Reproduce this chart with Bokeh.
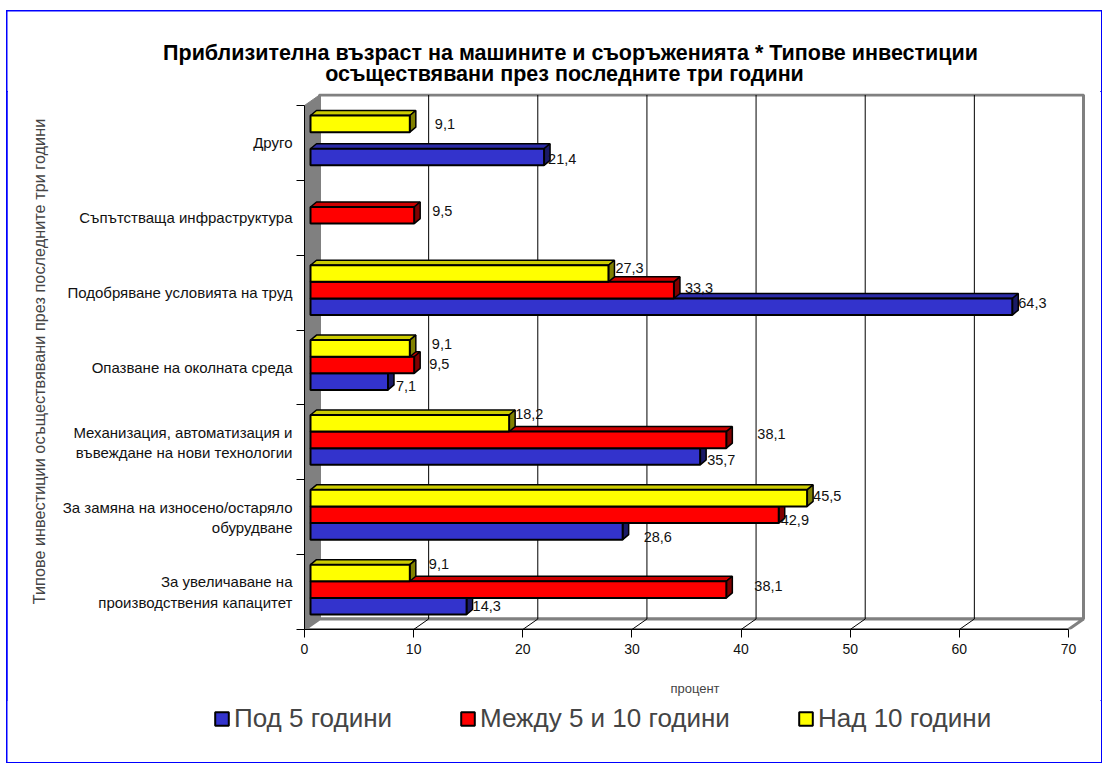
from bokeh.plotting import figure
from bokeh.layouts import column
from bokeh.models import Range1d, FixedTicker, Label, Legend, LegendItem, ColumnDataSource
from bokeh.embed import file_html
from bokeh.resources import INLINE
from bokeh.core.properties import value

# ---------------- data ----------------
categories = [
    "За увеличаване на\nпроизводствения капацитет",
    "За замяна на износено/остаряло\nобурудване",
    "Механизация, автоматизация и\nвъвеждане на нови технологии",
    "Опазване на околната среда",
    "Подобряване условията на труд",
    "Съпътстваща инфраструктура",
    "Друго",
]
series_names = ["Под 5 години", "Между 5 и 10 години", "Над 10 години"]
under_5 = [14.3, 28.6, 35.7, 7.1, 64.3, None, 21.4]
between_5_10 = [38.1, 42.9, 38.1, 9.5, 33.3, 9.5, None]
over_10 = [9.1, 45.5, 18.2, 9.1, 27.3, None, 9.1]
x_ticks = [0, 10, 20, 30, 40, 50, 60, 70]

title_lines = ["Приблизителна възраст на машините и съоръженията * Типове инвестиции",
               "осъществявани през последните три години"]
x_title = "процент"
y_title = "Типове инвестиции осъществявани през последните три години"

# label nudges (px) for the value labels, as placed in the original
nudge_x = [[0, 15, 1, 2, 0, 0, -2],
           [22, -4, 25, 9, 5, 12, 0],
           [13, 0, 0, 16, 1, 0, 19]]
nudge_y = [[0, 6, 4, 4, -4, 0, 1.5],
           [-4, 5, -6, -1.5, -2.5, -4, 0],
           [-9, -2, -9, -4.5, -6, 0, 0]]

front_colors = ["#3333CC", "#FF0000", "#FFFF00"]
top_colors = ["#2B2BA8", "#CC0000", "#CCCC00"]
side_colors = ["#1A1A66", "#800000", "#808000"]

FONT = "Liberation Sans"

# ---------------- geometry (px -> data) ----------------
PX_X = 764 / 70.0
PX_Y = 74.86
OX, OY = 7, 11                       # layout position on the page
W, H0, H1, H2 = 1094, 80, 609, 62
ML, MR, MT, MB = 297, 16, 2, 71
X_END = (W - ML - MR) / PX_X
Y_END = (H1 - MT - MB) / PX_Y
NCAT = len(categories)
XMAX = x_ticks[-1]
WDX, WDY = 15 / PX_X, 10.5 / PX_Y      # wall depth
BX0 = 6 / PX_X                          # bar front offset
BDX, BDY = 6 / PX_X, 5 / PX_Y           # bar depth
SLOT0, SLOT_H = 0.2, 0.222


def strip(h):
    f = figure(width=W, height=h, output_backend="svg", toolbar_location=None,
               x_range=Range1d(0, W), y_range=Range1d(0, h), x_axis_type=None,
               y_axis_type=None, min_border=0)
    f.frame_align = False
    f.outline_line_color = None
    f.grid.visible = False
    f.background_fill_color = "white"
    f.border_fill_color = "white"
    return f


# ---------------- title strip ----------------
tf = strip(H0)
for line, cx, cy in zip(title_lines, [563, 557], [39, 17.5]):
    tf.add_layout(Label(x=cx, y=cy, text=line, text_align="center", text_baseline="middle",
                        text_font=FONT, text_font_size="21.5px", text_font_style="bold",
                        text_color="black"))

# ---------------- main chart ----------------
p = figure(width=W, height=H1, output_backend="svg", toolbar_location=None,
           x_range=Range1d(0, X_END), y_range=Range1d(0, Y_END),
           min_border_left=ML, min_border_right=MR, min_border_top=MT, min_border_bottom=MB)
p.frame_align = False
p.outline_line_color = None
p.xgrid.visible = False
p.ygrid.visible = False
p.background_fill_color = "white"
p.border_fill_color = "white"

# back wall
p.quad(left=WDX, right=XMAX + WDX, bottom=WDY, top=NCAT + WDY,
       fill_color="white", line_color="#808080", line_width=3)
# floor
p.patch([0, XMAX, XMAX + WDX, WDX], [0, 0, WDY, WDY], fill_color="white",
        line_color="#808080", line_width=3)
# left wall
p.patch([0, WDX, WDX, 0], [0, WDY, NCAT + WDY, NCAT], fill_color="#808080",
        line_color="#808080", line_width=1)
# wall gridlines
gx = [t for t in x_ticks if 0 < t < XMAX]
p.segment(x0=[t + WDX for t in gx], y0=[WDY] * len(gx), x1=[t + WDX for t in gx],
          y1=[NCAT + WDY] * len(gx), line_color="black", line_width=1)
p.segment(x0=gx, y0=[0] * len(gx), x1=[t + WDX for t in gx], y1=[WDY] * len(gx),
          line_color="black", line_width=1)

# bars
all_series = [under_5, between_5_10, over_10]
for k, vals in enumerate(all_series):
    L, R, B, T = [], [], [], []
    txs, tys, sxs, sys_ = [], [], [], []
    for c, v in enumerate(vals):
        if v is None:
            continue
        b = c + SLOT0 + k * SLOT_H
        t = b + SLOT_H
        x0, x1 = BX0, v + BX0
        L.append(x0); R.append(x1); B.append(b); T.append(t)
        txs.append([x0, x1, x1 + BDX, x0 + BDX]); tys.append([t, t, t + BDY, t + BDY])
        sxs.append([x1, x1 + BDX, x1 + BDX, x1]); sys_.append([b, b + BDY, t + BDY, t])
    p.patches(txs, tys, fill_color=top_colors[k], line_color="black", line_width=1.5)
    p.patches(sxs, sys_, fill_color=side_colors[k], line_color="black", line_width=1.5)
    p.quad(left=L, right=R, bottom=B, top=T, fill_color=front_colors[k],
           line_color="black", line_width=2)

# value labels
lx, ly, lt, ldx, ldy = [], [], [], [], []
for k, vals in enumerate(all_series):
    for c, v in enumerate(vals):
        if v is None:
            continue
        lx.append(v + BX0 + BDX)
        ly.append(c + SLOT0 + k * SLOT_H + SLOT_H / 2)
        lt.append(f"{v:.1f}".replace(".", ","))
        ldx.append(nudge_x[k][c])
        ldy.append(nudge_y[k][c])
src = ColumnDataSource(dict(x=lx, y=ly, text=lt, dx=ldx, dy=ldy))
p.text(x="x", y="y", text="text", x_offset="dx", y_offset="dy", source=src,
       text_font=value(FONT), text_font_size=value("14.5px"), text_color="#111111",
       text_align="left", text_baseline="middle")

# axes
p.xaxis.ticker = FixedTicker(ticks=x_ticks, minor_ticks=[])
p.xaxis.bounds = (0, XMAX)
p.xaxis.axis_line_color = "black"
p.xaxis.major_tick_out = 8
p.xaxis.major_tick_in = 0
p.xaxis.major_tick_line_color = "black"
p.xaxis.major_label_text_font = FONT
p.xaxis.major_label_text_font_size = "14px"
p.xaxis.major_label_text_color = "#111111"
p.xaxis.major_label_standoff = 6
p.xaxis.axis_label = x_title
p.xaxis.axis_label_text_font = FONT
p.xaxis.axis_label_text_font_size = "13px"
p.xaxis.axis_label_text_font_style = "normal"
p.xaxis.axis_label_standoff = 24

centers = [c + 0.5 for c in range(NCAT)]
p.yaxis.ticker = FixedTicker(ticks=centers, minor_ticks=list(range(NCAT + 1)))
p.yaxis.major_label_overrides = {c + 0.5: lab for c, lab in enumerate(categories)}
p.yaxis.bounds = (0, NCAT)
p.yaxis.axis_line_color = "black"
p.yaxis.major_tick_out = 0
p.yaxis.major_tick_in = 0
p.yaxis.minor_tick_out = 8
p.yaxis.minor_tick_in = 0
p.yaxis.minor_tick_line_color = "black"
p.yaxis.major_label_text_font = FONT
p.yaxis.major_label_text_font_size = "15px"
p.yaxis.major_label_text_color = "#111111"
p.yaxis.major_label_standoff = 4
p.yaxis.axis_label = y_title
p.yaxis.axis_label_text_font = FONT
p.yaxis.axis_label_text_font_size = "16.3px"
p.yaxis.axis_label_text_font_style = "normal"
p.yaxis.axis_label_standoff = 12

# ---------------- legend strip ----------------
lf = strip(H2)
# legend swatches only (kept outside the strip's visible range)
leg_renderers = [lf.quad(left=[-20], right=[-10], bottom=[-20], top=[-10],
                         fill_color=front_colors[k], line_color="black", line_width=2)
                 for k in range(3)]
leg_x = [206, 452, 790]
for k in range(3):
    lg = Legend(items=[LegendItem(label=series_names[k], renderers=[leg_renderers[k]])],
                location=(leg_x[k], 28), orientation="horizontal",
                label_text_font=FONT, label_text_font_size="26px",
                glyph_width=17, glyph_height=17, label_standoff=4,
                border_line_color=None, background_fill_alpha=0,
                padding=0, margin=0, spacing=0)
    lf.add_layout(lg)

layout = column(tf, p, lf, spacing=0)
layout.margin = (OY, 0, 0, OX)
layout.styles = {"outline": "2px solid #0000FF", "outline-offset": "-1px"}

open("out.html", "w").write(file_html(layout, INLINE))
